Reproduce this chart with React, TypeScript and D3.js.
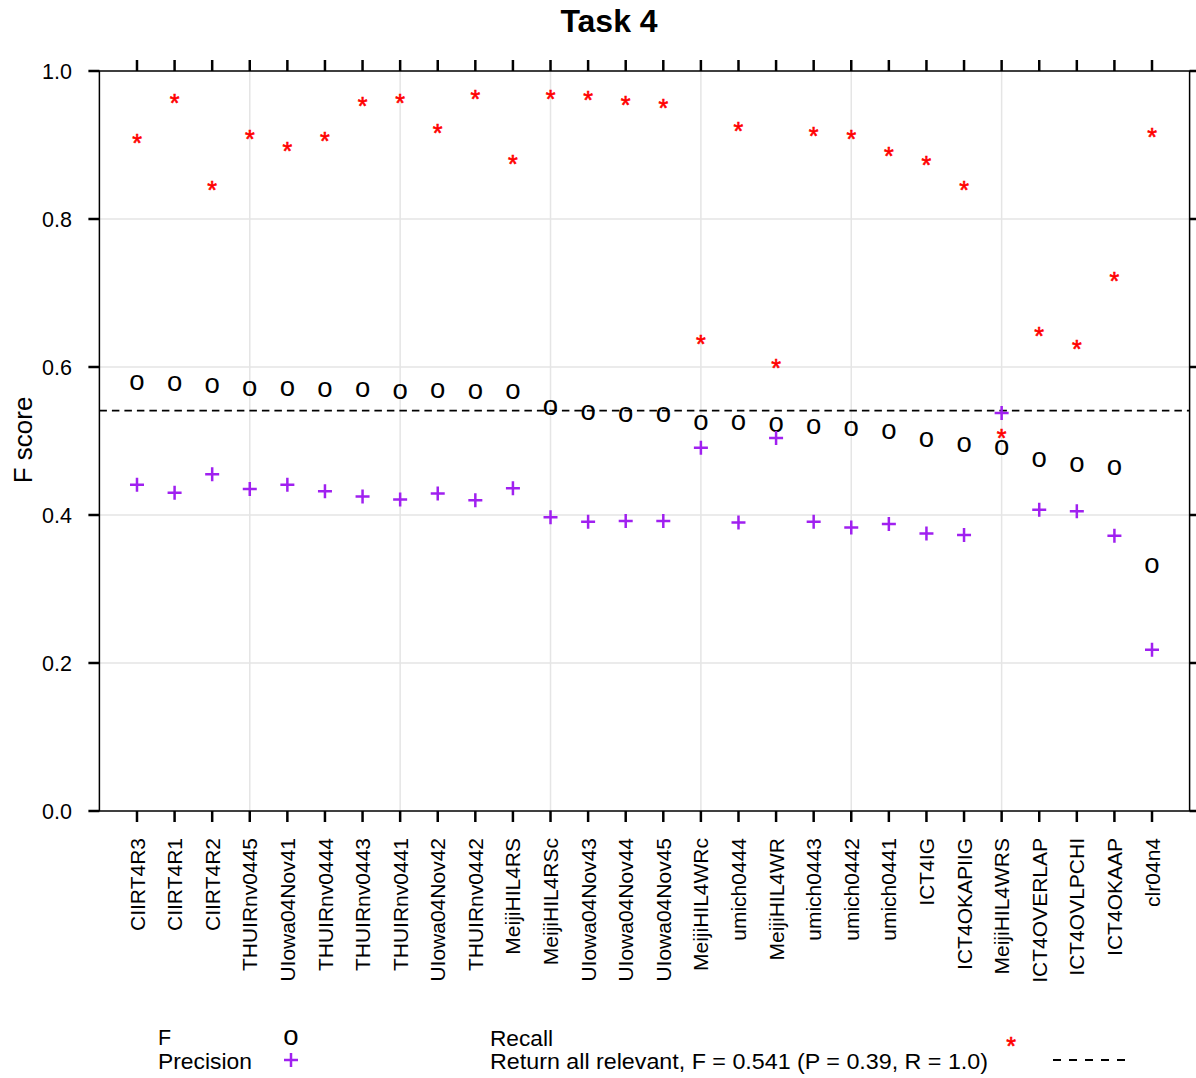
import React from "react";
import * as d3 from "d3";

const categories = [
  "CIIRT4R3", "CIIRT4R1", "CIIRT4R2", "THUIRnv0445", "UIowa04Nov41", "THUIRnv0444",
  "THUIRnv0443", "THUIRnv0441", "UIowa04Nov42", "THUIRnv0442", "MeijiHIL4RS", "MeijiHIL4RSc",
  "UIowa04Nov43", "UIowa04Nov44", "UIowa04Nov45", "MeijiHIL4WRc", "umich0444", "MeijiHIL4WR",
  "umich0443", "umich0442", "umich0441", "ICT4IG", "ICT4OKAPIIG", "MeijiHIL4WRS",
  "ICT4OVERLAP", "ICT4OVLPCHI", "ICT4OKAAP", "clr04n4",
];
const fScore = [
  0.578, 0.577, 0.575, 0.571, 0.570, 0.569, 0.569, 0.567, 0.568, 0.567, 0.566, 0.545,
  0.538, 0.536, 0.535, 0.524, 0.524, 0.522, 0.519, 0.517, 0.513, 0.502, 0.495, 0.491,
  0.474, 0.468, 0.464, 0.332,
];
const precision = [
  0.441, 0.430, 0.455, 0.435, 0.441, 0.432, 0.425, 0.421, 0.429, 0.420, 0.436, 0.397,
  0.391, 0.392, 0.392, 0.491, 0.390, 0.504, 0.391, 0.383, 0.388, 0.375, 0.373, 0.538,
  0.407, 0.405, 0.372, 0.218,
];
const recall = [
  0.910, 0.964, 0.847, 0.916, 0.899, 0.913, 0.960, 0.964, 0.924, 0.970, 0.882, 0.969,
  0.968, 0.961, 0.958, 0.638, 0.927, 0.606, 0.919, 0.916, 0.893, 0.880, 0.847, 0.512,
  0.650, 0.632, 0.724, 0.918,
];
const baselineF = 0.541;
const yTicks = [0, 0.2, 0.4, 0.6, 0.8, 1.0];
const yGrid = [0.2, 0.4, 0.6, 0.8];
const xGridIdx = [3, 7, 11, 15, 19, 23];

const W = 1196;
const H = 1078;
const FONT = "'Liberation Sans', Arial, Helvetica, sans-serif";
const PURPLE = "#a020f0";

export default function App() {
  const left = 99.4, right = 1189.6, top = 71, bottom = 811;
  const x = d3.scaleLinear().domain([-1, categories.length]).range([left, right]);
  const y = d3.scaleLinear().domain([0, 1]).range([bottom, top]);
  const xr = x.range();

  const plus = (cx: number, cy: number, key: string) => (
    <path key={key} d={`M${cx - 7},${cy}H${cx + 7}M${cx},${cy - 7}V${cy + 7}`} stroke={PURPLE} strokeWidth={2.5} fill="none" />
  );
  const star = (cx: number, cy: number, key: string) => (
    <text key={key} x={cx} y={cy + 14.5} fontSize={25} fill="#ff0000" stroke="#ff0000" strokeWidth={0.6} textAnchor="middle" fontFamily={FONT}>*</text>
  );
  const circ = (cx: number, cy: number, key: string) => (
    <text key={key} x={cx} y={cy + 7.2} fontSize={27.5} fill="#000" textAnchor="middle" fontFamily={FONT}>o</text>
  );

  return (
    <div style={{ position: "absolute", left: 0, top: 0 }}>
      <svg width={W} height={H} style={{ display: "block", background: "#fff" }} fontFamily={FONT}>
        {yGrid.map((v) => (
          <line key={"yg" + v} x1={xr[0]} x2={xr[1]} y1={y(v)} y2={y(v)} stroke="#e5e5e5" strokeWidth={1.5} />
        ))}
        {xGridIdx.map((i) => (
          <line key={"xg" + i} x1={x(i)} x2={x(i)} y1={top} y2={bottom} stroke="#e5e5e5" strokeWidth={1.5} />
        ))}
        <line x1={xr[0]} x2={xr[1]} y1={y(baselineF)} y2={y(baselineF)} stroke="#000" strokeWidth={1.9} strokeDasharray="7.5,5" />
        <rect x={xr[0]} y={top} width={xr[1] - xr[0]} height={bottom - top} fill="none" stroke="#000" strokeWidth={1.5} />
        {yTicks.map((v) => (
          <g key={"yt" + v}>
            <line x1={xr[0] - 11} x2={xr[0]} y1={y(v)} y2={y(v)} stroke="#000" strokeWidth={2.5} />
            <line x1={xr[1]} x2={xr[1] + 11} y1={y(v)} y2={y(v)} stroke="#000" strokeWidth={2.5} />
            <text x={72} y={y(v)} dy="0.36em" textAnchor="end" fontSize={21.5}>{v.toFixed(1)}</text>
          </g>
        ))}
        {categories.map((c, i) => (
          <g key={"xt" + c}>
            <line x1={x(i)} x2={x(i)} y1={top - 11} y2={top} stroke="#000" strokeWidth={2.5} />
            <line x1={x(i)} x2={x(i)} y1={bottom} y2={bottom + 11} stroke="#000" strokeWidth={2.5} />
            <text transform={`translate(${x(i)},${838}) rotate(-90)`} textAnchor="end" dy="0.36em" fontSize={21}>{c}</text>
          </g>
        ))}
        {recall.map((v, i) => star(x(i), y(v), "r" + i))}
        {fScore.map((v, i) => circ(x(i), y(v), "f" + i))}
        {precision.map((v, i) => plus(x(i), y(v), "p" + i))}
        <text x={609} y={32} textAnchor="middle" fontSize={32} fontWeight="bold">Task 4</text>
        <text transform="translate(32,440) rotate(-90)" textAnchor="middle" fontSize={26}>F score</text>
        <text x={158} y={1037} dy="0.36em" fontSize={21.5}>F</text>
        {circ(291, 1038, "lf")}
        <text x={158} y={1061} dy="0.36em" fontSize={21.5} textLength={94} lengthAdjust="spacingAndGlyphs">Precision</text>
        {plus(291, 1060, "lp")}
        <text x={490} y={1038} dy="0.36em" fontSize={21.5} textLength={63} lengthAdjust="spacingAndGlyphs">Recall</text>
        {star(1011, 1040, "lr")}
        <text x={490} y={1061} dy="0.36em" fontSize={21.5} textLength={498} lengthAdjust="spacingAndGlyphs">Return all relevant, F = 0.541 (P = 0.39, R = 1.0)</text>
        <line x1={1053} x2={1133} y1={1060} y2={1060} stroke="#000" strokeWidth={1.8} strokeDasharray="8,8" />
      </svg>
    </div>
  );
}
